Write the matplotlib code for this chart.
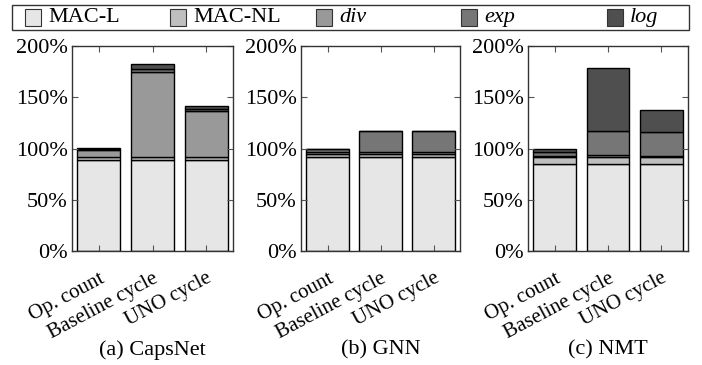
import numpy as np
import matplotlib
matplotlib.use("Agg")
import matplotlib.pyplot as plt
from matplotlib.patches import Rectangle
import matplotlib.transforms as mtrans

plt.rcParams["font.family"] = "serif"
plt.rcParams["font.serif"] = ["Liberation Serif", "DejaVu Serif"]

CATEGORIES = ["Op. count", "Baseline cycle", "UNO cycle"]
COMPONENTS = ["MAC-L", "MAC-NL", "div", "exp", "log"]
COLORS = ["#e6e6e6", "#bfbfbf", "#999999", "#767676", "#4f4f4f"]
PANELS = ["(a) CapsNet", "(b) GNN", "(c) NMT"]

# percent values per component, columns follow CATEGORIES
capsnet = {
    "MAC-L": [89, 89, 89],
    "MAC-NL": [3, 3, 3],
    "div": [7, 83, 45],
    "exp": [0.8, 3, 2],
    "log": [0.5, 4, 2],
}
gnn = {
    "MAC-L": [92, 92, 92],
    "MAC-NL": [3, 3, 3],
    "div": [2, 2, 2],
    "exp": [2.5, 20, 20],
    "log": [0.5, 0, 0],
}
nmt = {
    "MAC-L": [84.5, 84.5, 84.5],
    "MAC-NL": [7.5, 7.5, 7.5],
    "div": [1, 2, 1],
    "exp": [4, 23, 23],
    "log": [3, 62, 22],
}
DATA = [capsnet, gnn, nmt]

W, H = 702, 365
fig = plt.figure(figsize=(W / 100, H / 100), dpi=100)

# axes rectangles in pixels: left, width
AX_X = [(72, 161), (301, 159), (528, 160)]
bottom_px, top_px = 251, 46

x = np.arange(1, len(CATEGORIES) + 1)
for (left, width), data, title in zip(AX_X, DATA, PANELS):
    ax = fig.add_axes(
        [left / W, 1 - bottom_px / H, width / W, (bottom_px - top_px) / H]
    )
    base = np.zeros(len(CATEGORIES))
    for comp, color in zip(COMPONENTS, COLORS):
        vals = np.array(data[comp], dtype=float)
        ax.bar(x, vals, width=0.8, bottom=base, color=color,
               edgecolor="black", linewidth=1.0)
        base += vals
    ax.set_xlim(0.5, 3.5)
    ax.set_ylim(0, 200)
    ax.set_yticks([0, 50, 100, 150, 200])
    ax.set_yticklabels(["0%", "50%", "100%", "150%", "200%"], fontsize=16)
    ax.set_xticks(x)
    ax.set_xticklabels(CATEGORIES, fontsize=15, rotation=28, ha="right",
                       rotation_mode="anchor")
    offset = mtrans.ScaledTranslation(10 / 100, 0, fig.dpi_scale_trans)
    for lab in ax.get_xticklabels():
        lab.set_transform(lab.get_transform() + offset)
    ax.tick_params(direction="in", top=True, right=True, length=4,
                   width=0.8, color="#555555", pad=3)
    ax.tick_params(axis="x", pad=13)
    for sp in ax.spines.values():
        sp.set_linewidth(1.0)
        sp.set_color("#333333")
    cx = (left + width / 2) / W
    fig.text(cx, 1 - 350 / H, title, ha="center", va="center", fontsize=16)

# legend drawn as a framed row across the top
fig.patches.append(Rectangle((12 / W, 1 - 30 / H), 677 / W, 25 / H,
                             transform=fig.transFigure, facecolor="white",
                             edgecolor="#333333", linewidth=1.0))
labels = ["MAC-L", "MAC-NL", "div", "exp", "log"]
styles = ["normal", "normal", "italic", "italic", "italic"]
handle_x = [25, 170, 316, 461, 607]
for hx, color, lab, st in zip(handle_x, COLORS, labels, styles):
    fig.patches.append(Rectangle((hx / W, 1 - 26 / H), 16 / W, 17 / H,
                                 transform=fig.transFigure, facecolor=color,
                                 edgecolor="#333333", linewidth=0.8))
    fig.text((hx + 23) / W, 1 - 17.5 / H, lab, ha="left", va="center",
             fontsize=16, style=st)

fig.savefig("out.png", dpi=100)
